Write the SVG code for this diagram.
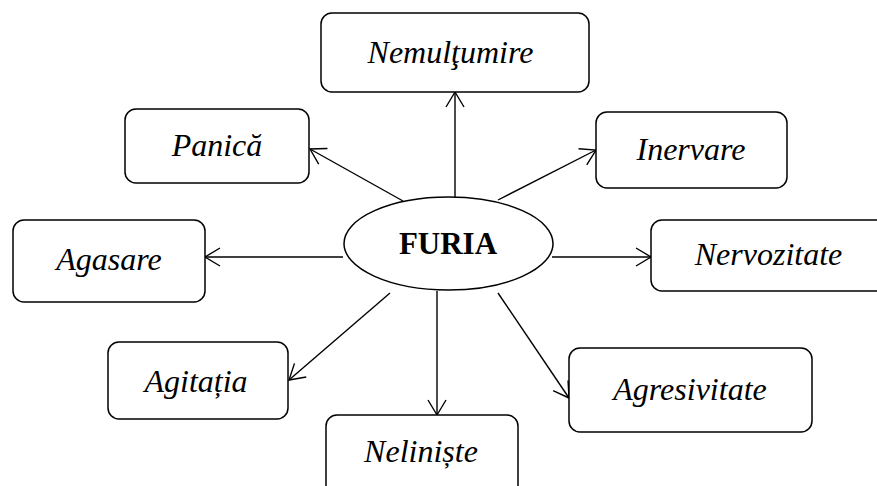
<svg xmlns="http://www.w3.org/2000/svg" width="877" height="486" viewBox="0 0 877 486">
<style>
.box{fill:#fff;stroke:#000;stroke-width:1.5}
.lbl{font-family:"Liberation Serif","Times New Roman",serif;font-style:italic;font-size:32px;text-anchor:middle;fill:#000}
.main{font-family:"Liberation Serif","Times New Roman",serif;font-weight:bold;font-size:31px;text-anchor:middle;fill:#000}
.con{stroke:#000;stroke-width:1.4;fill:none;marker-end:url(#arr)}
</style>
<defs>
<marker id="arr" markerUnits="userSpaceOnUse" markerWidth="20" markerHeight="22" viewBox="-17 -11 19 22" refX="0" refY="0" orient="auto">
<path d="M-15,-9 L0,0 L-15,9" fill="none" stroke="#000" stroke-width="1.4"/>
</marker>
</defs>
<rect width="877" height="486" fill="#fff"/>
<g id="connectors">
<line class="con" x1="455" y1="200" x2="455" y2="92"/>
<line class="con" x1="403" y1="201" x2="310" y2="149"/>
<line class="con" x1="498" y1="200" x2="596" y2="150"/>
<line class="con" x1="343" y1="257" x2="205" y2="257"/>
<line class="con" x1="552" y1="257" x2="651" y2="257"/>
<line class="con" x1="390" y1="293" x2="289" y2="380"/>
<line class="con" x1="437" y1="291" x2="437" y2="415"/>
<line class="con" x1="498" y1="293" x2="569" y2="398"/>
</g>
<g id="furia">
<ellipse cx="448.5" cy="243.5" rx="104.5" ry="46.5" fill="#fff" stroke="#000" stroke-width="1.5"/>
<text class="main" x="448" y="254">FURIA</text>
</g>
<g id="nemultumire">
<rect class="box" x="321" y="13" width="268" height="79" rx="11"/>
<text class="lbl" x="450.5" y="63">Nemulţumire</text>
</g>
<g id="panica">
<rect class="box" x="125" y="109" width="184" height="74" rx="11"/>
<text class="lbl" x="217" y="156">Panică</text>
</g>
<g id="inervare">
<rect class="box" x="596" y="112" width="191" height="76" rx="11"/>
<text class="lbl" x="691" y="160">Inervare</text>
</g>
<g id="agasare">
<rect class="box" x="13" y="220" width="192" height="82" rx="11"/>
<text class="lbl" x="109" y="270">Agasare</text>
</g>
<g id="nervozitate">
<rect class="box" x="651" y="220" width="240" height="71" rx="11"/>
<text class="lbl" x="768.5" y="265">Nervozitate</text>
</g>
<g id="agitatia">
<rect class="box" x="108" y="342" width="180" height="77" rx="11"/>
<text class="lbl" x="196" y="392">Agitația</text>
</g>
<g id="agresivitate">
<rect class="box" x="569" y="348" width="243" height="84" rx="11"/>
<text class="lbl" x="690" y="400">Agresivitate</text>
</g>
<g id="nelinste">
<rect class="box" x="326" y="415" width="192" height="90" rx="11"/>
<text class="lbl" x="421" y="462">Neliniște</text>
</g>
</svg>
